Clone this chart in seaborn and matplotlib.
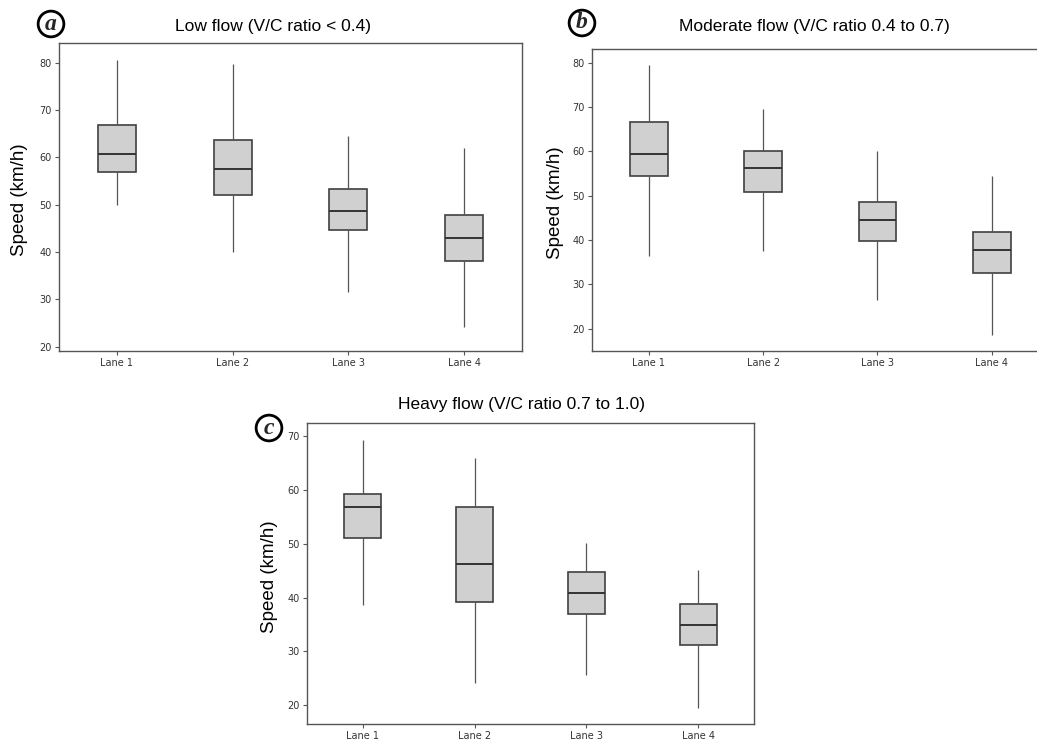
#!/usr/bin/env python3

import matplotlib
matplotlib.use("Agg")
import matplotlib.pyplot as plt
import numpy as np
import pandas as pd
import seaborn as sns

""" five-number summaries (min, Q1, median, Q3, max) read off the figure """

lanes = ["Lane 1", "Lane 2", "Lane 3", "Lane 4"]

low_flow = [
    [49.9, 56.9, 60.8, 66.8, 80.7],
    [40.1, 52.0, 57.5, 63.6, 79.7],
    [31.6, 44.6, 48.7, 53.4, 64.5],
    [24.1, 38.2, 42.9, 47.8, 62.1],
]
moderate_flow = [
    [36.4, 54.5, 59.5, 66.6, 79.6],
    [37.5, 50.9, 56.3, 60.1, 69.5],
    [26.5, 39.9, 44.6, 48.6, 60.1],
    [18.6, 32.6, 37.8, 41.8, 54.5],
]
heavy_flow = [
    [38.6, 51.0, 56.9, 59.2, 69.3],
    [24.1, 39.2, 46.2, 56.9, 66.0],
    [25.7, 37.0, 40.8, 44.7, 50.1],
    [19.4, 31.1, 34.9, 38.8, 45.1],
]

titles = ["Low flow (V/C ratio < 0.4)",
          "Moderate flow (V/C ratio 0.4 to 0.7)",
          "Heavy flow (V/C ratio 0.7 to 1.0)"]
panel_letters = ["a", "b", "c"]
yticks = [[20, 30, 40, 50, 60, 70, 80],
          [20, 30, 40, 50, 60, 70, 80],
          [20, 30, 40, 50, 60, 70]]
ylims = [(19.1, 84.2), (15.0, 83.1), (16.5, 72.4)]

W, H = 1037, 745
sns.set_style("white")
plt.rcParams["font.family"] = ["Liberation Sans", "DejaVu Sans"]

fig = plt.figure(figsize=(W / 100, H / 100), dpi=100)

# axes boxes in pixels: left, right, top, bottom
boxes = [(59, 522, 43, 351), (591.7, 1048.8, 49, 351), (306.7, 754.3, 423.3, 724)]
title_pos = [(273, 26), (814, 26), (522, 405)]
ylabel_pos = [(20, 200), (555, 203), (270, 577)]
letter_pos = [(51, 24), (582, 23), (269, 428)]

edge = "#404040"

for i, summ in enumerate([low_flow, moderate_flow, heavy_flow]):
    l, r, t, b = boxes[i]
    ax = fig.add_axes([l / W, 1 - b / H, (r - l) / W, (b - t) / H])
    df = pd.DataFrame({
        "lane": np.repeat(lanes, 5),
        "speed": np.concatenate(summ),
    })
    sns.boxplot(data=df, x="lane", y="speed", ax=ax, width=0.33,
                color="#d0d0d0", saturation=1, linecolor=edge, linewidth=1.2,
                whis=(0, 100), showcaps=False, fliersize=0,
                whiskerprops={"linewidth": 0.9, "color": "#555555"},
                medianprops={"linewidth": 1.4, "color": "#333333"})
    ax.set_xlim(-0.5, 3.5)
    ax.set_ylim(*ylims[i])
    ax.set_yticks(yticks[i])
    ax.set_xlabel("")
    ax.set_ylabel("")
    ax.tick_params(axis="both", which="both", direction="out", length=3,
                   width=0.8, color="#555555", labelsize=7,
                   labelcolor="#333333", left=True, bottom=True, pad=2)
    for lab in ax.get_xticklabels() + ax.get_yticklabels():
        lab.set_fontfamily("DejaVu Sans")
    for sp in ax.spines.values():
        sp.set_color("#555555")
        sp.set_linewidth(1.0)

    tx, ty = title_pos[i]
    fig.text(tx / W, 1 - ty / H, titles[i], ha="center", va="center",
             fontsize=12.5, color="black")
    yx, yy = ylabel_pos[i]
    fig.text(yx / W, 1 - yy / H, "Speed (km/h)", ha="center", va="center",
             rotation=90, fontsize=13.5, color="black")
    lx, ly = letter_pos[i]
    fig.text(lx / W, 1 - ly / H, panel_letters[i], ha="center", va="center",
             fontsize=17, fontweight="bold", fontstyle="italic",
             family=["Liberation Serif", "DejaVu Serif"],
             bbox=dict(boxstyle="circle,pad=0.1", fc="white", ec="black", lw=2.0))

fig.savefig("out.png", dpi=100)
